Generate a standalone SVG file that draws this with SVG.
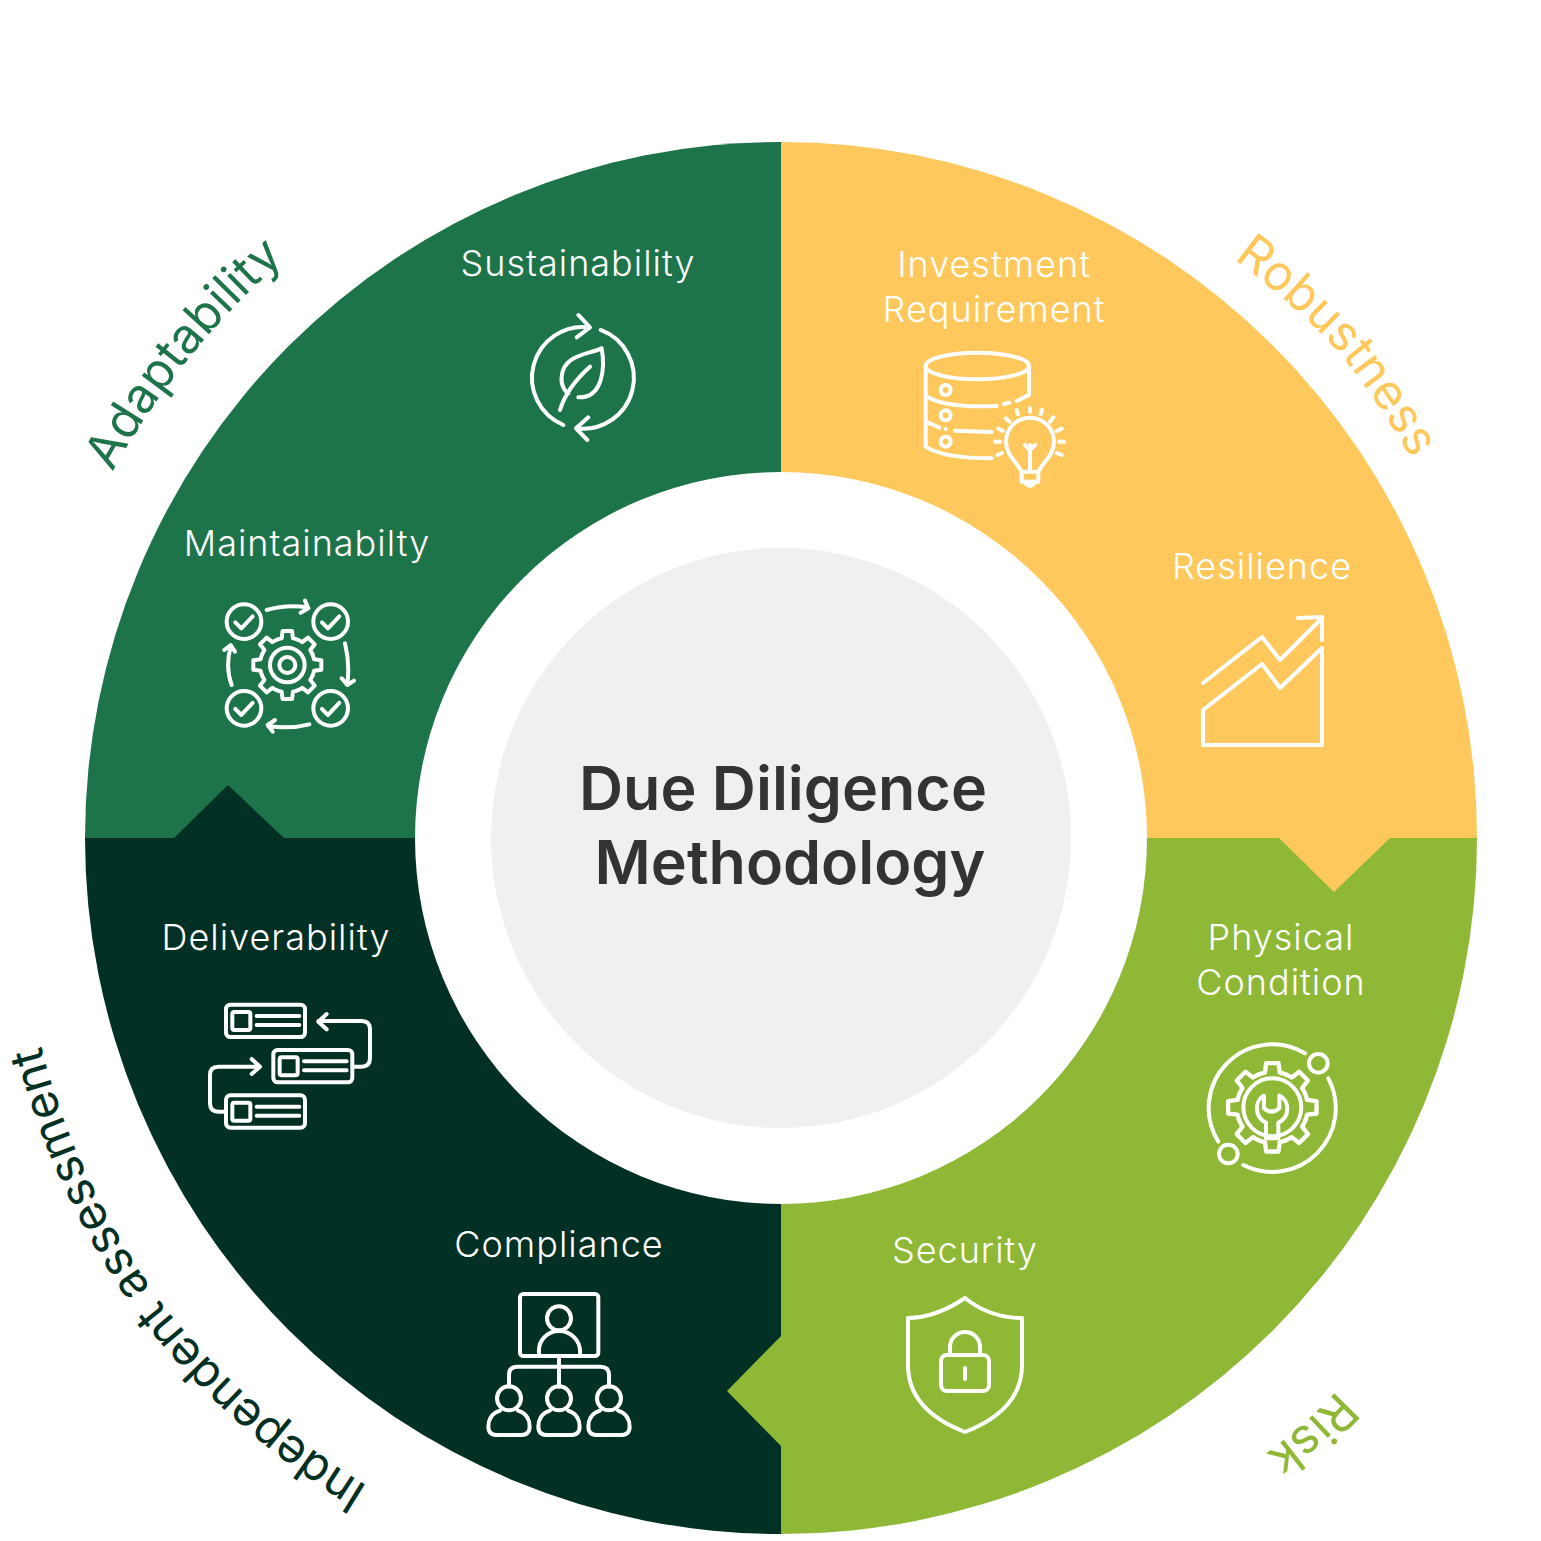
<svg xmlns="http://www.w3.org/2000/svg" xmlns:xlink="http://www.w3.org/1999/xlink" width="1541" height="1541" viewBox="0 0 1541 1541">
<style>
.lbl{font-family:"Inter","Liberation Sans",sans-serif;font-weight:300;font-size:36px;fill:#fff;text-anchor:middle;letter-spacing:1px}
.title{font-family:"Inter","Liberation Sans",sans-serif;font-weight:600;font-size:61px;fill:#333;text-anchor:middle}
.arc{font-family:"Inter","Liberation Sans",sans-serif;font-weight:400;font-size:49px;text-anchor:middle}
.ic{fill:none;stroke:#fff;stroke-width:12;stroke-linecap:round;stroke-linejoin:round}
.thin{stroke-width:4}
</style>
<defs>
<path id="gearseg" d="M-31.4,-75.8A82 82 0 0 1 -17,-80.2L-14.3,-102L14.3,-102L17,-80.2A82 82 0 0 1 31.4,-75.8"/>
<g id="gear">
<use href="#gearseg"/><use href="#gearseg" transform="rotate(45)"/><use href="#gearseg" transform="rotate(90)"/><use href="#gearseg" transform="rotate(135)"/><use href="#gearseg" transform="rotate(180)"/><use href="#gearseg" transform="rotate(225)"/><use href="#gearseg" transform="rotate(270)"/><use href="#gearseg" transform="rotate(315)"/>
</g>
<g id="task"><rect x="0" y="0" width="237" height="97" rx="13"/><rect x="19" y="22" width="54" height="54" rx="6"/><path d="M92,34H220M92,61H220"/></g>
<g id="person"><circle cx="0" cy="0" r="36"/><path d="M-27,37C-55,45 -62,68 -62,85Q-62,110 -34,110H34Q62,110 62,85C62,68 55,45 27,37"/></g>
<g id="chk"><circle cx="0" cy="0" r="52"/><path d="M-26,2L-8,20L26,-16"/></g>
<path id="pa" d="M1380,1322A770 770 0 0 1 182,354A770 770 0 0 1 1380,1322"/>
<path id="pr" d="M227,1331A742 742 0 0 1 1335,345A742 742 0 0 1 227,1331"/>
<path id="pi" d="M1403,376A775 775 0 0 1 159,1300A775 775 0 0 1 1403,376"/>
<path id="pk" d="M259,252A785 785 0 0 1 1303,1424A785 785 0 0 1 259,252"/>
</defs>
<rect width="1541" height="1541" fill="#fff"/>
<g id="connectors"></g>
<g id="ring">
<path id="seg-adaptability" fill="#1E744A" d="M781,838V142A696 696 0 0 0 85,838Z"/>
<path id="seg-robustness" fill="#FFC85C" d="M781,838V142A696 696 0 0 1 1477,838Z"/>
<path id="seg-risk" fill="#8FB836" d="M781,838H1477A696 696 0 0 1 781,1534Z"/>
<path id="seg-independent" fill="#033024" d="M781,838V1534A696 696 0 0 1 85,838Z"/>
<path id="notch-independent" fill="#033024" d="M173,839L228,785L285,839Z"/>
<path id="notch-robustness" fill="#FFC85C" d="M1278,837L1334,892L1391,837Z"/>
<path id="notch-risk" fill="#8FB836" d="M782,1335L727,1391L782,1447Z"/>
</g>
<g id="center">
<circle cx="781" cy="838" r="366" fill="#fff"/>
<circle cx="781" cy="838" r="290" fill="#F0F0F0"/>
<text class="title" x="783" y="810">Due Diligence</text>
<text class="title" x="790" y="884">Methodology</text>
</g>
<g id="cat-adaptability" transform="translate(7,4)"><text class="arc" fill="#1E744A"><textPath href="#pa" startOffset="50%">Adaptability</textPath></text></g>
<g id="cat-robustness" transform="translate(0,3)"><text class="arc" fill="#FFC85C"><textPath href="#pr" startOffset="50%">Robustness</textPath></text></g>
<g id="cat-independent"><text class="arc" fill="#033024" style="font-size:47.5px"><textPath href="#pi" startOffset="50%">Independent assessment</textPath></text></g>
<g id="cat-risk"><text class="arc" fill="#8FB836"><textPath href="#pk" startOffset="50%">Risk</textPath></text></g>

<g id="node-sustainability">
<text class="lbl" x="578" y="276">Sustainability</text>
<g class="ic" transform="translate(510,300) scale(.3333)">
<path d="M160,375A153 153 0 0 1 238,82M205,45L240,82L200,112M272,90A153 153 0 0 1 198,385M235,352L198,385L232,420"/>
<path d="M275,145C230,165 160,165 155,230C152,255 165,275 175,280M275,145C285,200 280,295 205,292M150,330C165,280 195,240 240,200"/>
</g></g>

<g id="node-investment">
<text class="lbl" x="994" y="277">Investment</text>
<text class="lbl" x="994" y="322">Requirement</text>
<g class="ic" transform="translate(880,330) scale(.3333)">
<ellipse cx="292" cy="108" rx="155" ry="40"/>
<path d="M137,108V350Q190,385 335,385M447,108V195L410,213M388,218L372,222M350,228Q190,235 137,197M137,275L178,293M197,297V297M225,302L335,306"/>
<circle cx="197" cy="180" r="15"/><circle cx="197" cy="256" r="15"/><circle cx="197" cy="335" r="15"/>
<path d="M425,425C410,395 378,375 378,335A72 72 0 0 1 522,335C522,375 490,395 475,425ZM425,425V455H475V425M433,455Q450,480 467,455M450,425V345M435,345L450,360L465,345"/>
<path d="M450,235V245M410,240L414,253M378,265L388,275M355,296L368,303M345,335H360M352,375L366,369M486,240L482,253M520,262L510,275M545,296L530,303M552,335H537M545,375L530,369"/>
</g></g>

<g id="node-resilience">
<text class="lbl" x="1262" y="579">Resilience</text>
<g class="ic thin">
<path d="M1203,745H1322V648L1280,688L1262,664L1203,710ZM1203,683L1262,637L1280,660L1322,618M1298,618L1322,617V640"/>
</g></g>

<g id="node-physical">
<text class="lbl" x="1281" y="950">Physical</text>
<text class="lbl" x="1281" y="995">Condition</text>
<g class="ic" transform="translate(1190,1030) scale(.3333)">
<use href="#gear" transform="translate(247,232) scale(1.3)" style="stroke-width:10"/>
<circle cx="247" cy="232" r="87"/>
<circle cx="385" cy="100" r="28"/><circle cx="115" cy="372" r="28"/>
<path d="M345,70A191 191 0 0 0 85,335M160,405A191 191 0 0 0 415,145"/>
<path d="M222,197C195,210 190,260 228,278V325H265V278C303,260 298,210 268,197V235Q245,255 222,235Z"/>
</g></g>

<g id="node-security">
<text class="lbl" x="965" y="1263">Security</text>
<g class="ic thin">
<path d="M965,1298Q935,1318 908,1318V1365Q908,1410 965,1432Q1022,1410 1022,1365V1318Q990,1318 965,1298Z"/>
<rect x="941" y="1355" width="48" height="36" rx="6"/>
<path d="M950,1355V1347A15 15 0 0 1 980,1347V1355M965,1368V1379"/>
</g></g>

<g id="node-compliance">
<text class="lbl" x="559" y="1257">Compliance</text>
<g class="ic" transform="translate(470,1280) scale(.3333)">
<rect x="150" y="42" width="235" height="186" rx="10"/>
<circle cx="267" cy="115" r="36"/>
<path d="M208,225C200,180 235,153 267,153C300,153 335,180 330,225M267,228V320M117,320V285Q117,260 142,260H392Q417,260 417,285V320"/>
<use href="#person" x="117" y="355"/><use href="#person" x="267" y="355"/><use href="#person" x="417" y="355"/>
</g></g>

<g id="node-deliverability">
<text class="lbl" x="276" y="950">Deliverability</text>
<g class="ic" transform="translate(190,990) scale(.3333)">
<use href="#task" x="108" y="44"/><use href="#task" x="250" y="180"/><use href="#task" x="108" y="316"/>
<path d="M490,230H515Q540,230 540,205V118Q540,93 515,93H385M410,72L385,95L410,118M108,365H85Q60,365 60,340V255Q60,230 85,230H210M185,207L210,230L185,252"/>
</g></g>

<g id="node-maintainability">
<text class="lbl" x="307" y="556">Maintainabilty</text>
<g class="ic" transform="translate(200,590) scale(.3333)">
<use href="#chk" x="132" y="95"/><use href="#chk" x="392" y="95"/><use href="#chk" x="132" y="355"/><use href="#chk" x="392" y="355"/>
<use href="#gear" transform="translate(262,225)"/>
<circle cx="262" cy="225" r="52"/><circle cx="262" cy="225" r="24"/>
<path d="M200,60Q260,42 322,52M315,32L325,55L302,68M435,160Q450,220 442,280M425,265L442,285L462,272M328,403Q270,418 205,408M225,390L203,405L218,425M95,285Q75,230 92,170M73,180L92,165L105,185"/>
</g></g>
</svg>
